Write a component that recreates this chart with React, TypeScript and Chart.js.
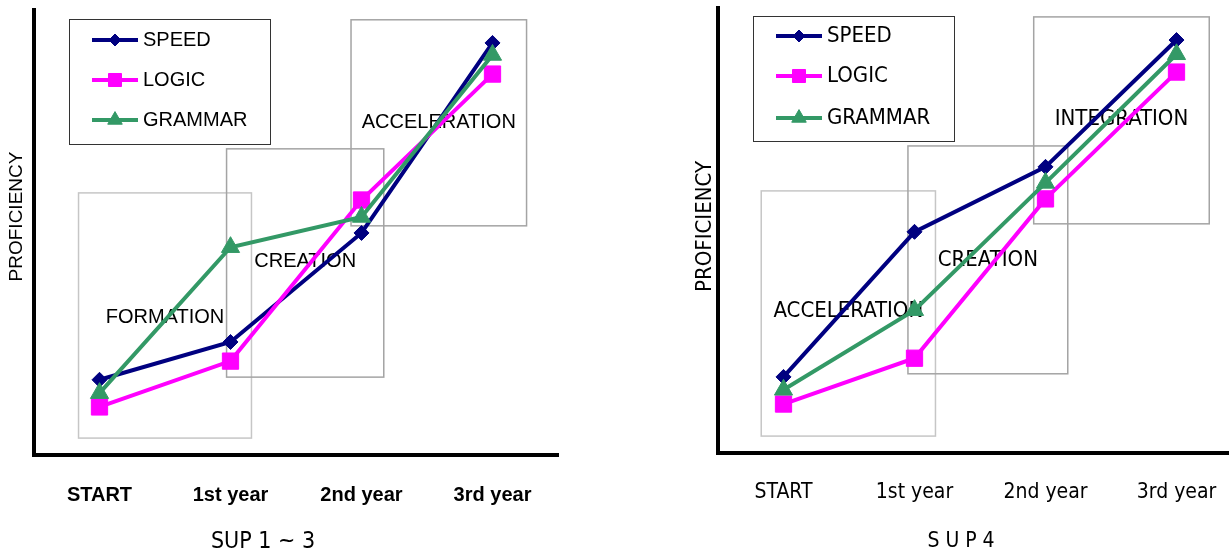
import React, { useEffect, useRef } from 'react';
import { Chart, registerables } from 'chart.js';
import { drawPoint } from 'chart.js/helpers';

Chart.register(...registerables);

// Shared categories and series
const categories = ['START', '1st year', '2nd year', '3rd year'];
const seriesNames = ['SPEED', 'LOGIC', 'GRAMMAR'];

// SUP 1 ~ 3 proficiency (0-100 scale)
const sup13Speed = [16.9, 25.4, 49.9, 92.6];
const sup13Logic = [10.8, 21.1, 57.3, 85.6];
const sup13Grammar = [13.9, 46.7, 53.5, 89.9];

// SUP 1 ~ 3 phase frames (x in category units, y in proficiency units)
const sup13Phases = ['FORMATION', 'CREATION', 'ACCELERATION'];
const sup13PhaseFrom = [-0.16, 0.97, 1.92];
const sup13PhaseTo = [1.16, 2.17, 3.26];
const sup13PhaseLow = [3.8, 17.5, 51.5];
const sup13PhaseHigh = [58.9, 68.8, 97.8];
const sup13PhaseLabelAt = [31.0, 43.4, 74.8];

// SUP 4 proficiency
const sup4Speed = [17.1, 49.7, 64.3, 92.8];
const sup4Logic = [11.0, 21.3, 57.1, 85.6];
const sup4Grammar = [14.2, 32.1, 60.7, 89.6];

// SUP 4 phase frames
const sup4Phases = ['ACCELERATION', 'CREATION', 'INTEGRATION'];
const sup4PhaseFrom = [-0.17, 0.95, 1.91];
const sup4PhaseTo = [1.16, 2.17, 3.25];
const sup4PhaseLow = [3.8, 17.8, 51.5];
const sup4PhaseHigh = [58.9, 69.0, 98.0];
const sup4PhaseLabelAt = [31.9, 43.4, 75.1];

const seriesStyles = [
  { color: '#000080', pointStyle: 'rectRot', radius: 7.5, order: 3 },
  { color: '#ff00ff', pointStyle: 'rect', radius: 11.5, order: 2 },
  { color: '#339966', pointStyle: 'triangle', radius: 10.5, order: 1 },
];

const frameColors = ['#c6c6c6', '#a4a4a4', '#a4a4a4'];

const ARIAL = "'Liberation Sans', Arial, sans-serif";
const CONDENSED = "'DejaVu Sans Condensed', 'DejaVu Sans', sans-serif";

type PanelConfig = {
  pageX: number;
  top: number;
  bottom: number;
  values: number[][];
  phases: string[];
  from: number[];
  to: number[];
  low: number[];
  high: number[];
  labelAt: number[];
  family: string;
  textSize: number;
  tickFont: { family: string; size: number; weight: string };
  tickPad: number;
  legendTop: number;
  legendRows: number[];
  yTitleSize: number;
  yTitleDx: number;
  yTitleShift: number;
  xTitle: string;
  xTitleSize: number;
  xTitleShift: number;
};

const CANVAS_W = 560;
const CANVAS_H = 550;
const AXIS_LEFT = 34;

function makeFramePlugin(cfg: PanelConfig) {
  return {
    id: 'phaseFrames',
    beforeDatasetsDraw(chart: any) {
      const { ctx, scales } = chart;
      const x = scales.x;
      const y = scales.y;
      ctx.save();
      cfg.phases.forEach((name, i) => {
        const x0 = x.getPixelForValue(cfg.from[i]);
        const x1 = x.getPixelForValue(cfg.to[i]);
        const y0 = y.getPixelForValue(cfg.high[i]);
        const y1 = y.getPixelForValue(cfg.low[i]);
        ctx.strokeStyle = frameColors[i];
        ctx.lineWidth = 1.5;
        ctx.strokeRect(x0, y0, x1 - x0, y1 - y0);
      });
      ctx.fillStyle = '#000';
      ctx.font = `${cfg.textSize}px ${cfg.family}`;
      ctx.textAlign = 'center';
      ctx.textBaseline = 'middle';
      cfg.phases.forEach((name, i) => {
        const cx = (x.getPixelForValue(cfg.from[i]) + x.getPixelForValue(cfg.to[i])) / 2;
        ctx.fillText(name, cx, y.getPixelForValue(cfg.labelAt[i]));
      });
      ctx.restore();
    },
    afterDraw(chart: any) {
      const { ctx, chartArea: a } = chart;
      ctx.save();
      // legend frame
      ctx.fillStyle = '#fff';
      ctx.fillRect(a.left + 35, a.top + cfg.legendTop, 201, 125);
      ctx.strokeStyle = '#333';
      ctx.lineWidth = 1;
      ctx.strokeRect(a.left + 35.5, a.top + cfg.legendTop + 0.5, 201, 125);
      ctx.font = `${cfg.textSize}px ${cfg.family}`;
      ctx.textAlign = 'left';
      ctx.textBaseline = 'middle';
      seriesNames.forEach((name, i) => {
        const st = seriesStyles[i];
        const ry = a.top + cfg.legendRows[i];
        ctx.strokeStyle = st.color;
        ctx.lineWidth = 4;
        ctx.beginPath();
        ctx.moveTo(a.left + 58, ry);
        ctx.lineTo(a.left + 104, ry);
        ctx.stroke();
        ctx.fillStyle = st.color;
        ctx.lineWidth = 1;
        drawPoint(ctx, { pointStyle: st.pointStyle as any, rotation: 0, radius: st.radius * 0.8, borderWidth: 1 }, a.left + 81, ry);
        ctx.fillStyle = '#000';
        ctx.fillText(name, a.left + 109, ry);
      });
      // vertical axis title
      ctx.save();
      ctx.translate(a.left - cfg.yTitleDx, (a.top + a.bottom) / 2 + cfg.yTitleShift);
      ctx.rotate(-Math.PI / 2);
      ctx.textAlign = 'center';
      ctx.font = `${cfg.yTitleSize}px ${cfg.family}`;
      ctx.fillText('PROFICIENCY', 0, 0);
      ctx.restore();
      // panel caption
      ctx.textAlign = 'center';
      ctx.font = `${cfg.xTitleSize}px ${CONDENSED}`;
      ctx.fillText(cfg.xTitle, (a.left + a.right) / 2 + cfg.xTitleShift, CANVAS_H - 8);
      ctx.restore();
    },
  };
}

function CohortChart({ cfg }: { cfg: PanelConfig }) {
  const ref = useRef<HTMLCanvasElement>(null);
  useEffect(() => {
    if (!ref.current) return;
    const chart = new Chart(ref.current, {
      type: 'line',
      data: {
        labels: categories,
        datasets: seriesNames.map((name, i) => ({
          label: name,
          data: cfg.values[i],
          borderColor: seriesStyles[i].color,
          backgroundColor: seriesStyles[i].color,
          borderWidth: 4,
          pointStyle: seriesStyles[i].pointStyle as any,
          pointRadius: seriesStyles[i].radius,
          pointBorderWidth: 1,
          pointBackgroundColor: seriesStyles[i].color,
          pointBorderColor: seriesStyles[i].color,
          tension: 0,
          order: seriesStyles[i].order,
          clip: false as any,
        })),
      },
      options: {
        responsive: false,
        animation: false,
        devicePixelRatio: 1,
        layout: { autoPadding: false, padding: { top: cfg.top, right: 2, left: 0, bottom: 0 } },
        plugins: {
          legend: { display: false },
          tooltip: { enabled: false },
          title: { display: false },
        },
        scales: {
          x: {
            type: 'category',
            offset: true,
            grid: { display: false },
            border: { display: true, color: '#000', width: 4 },
            ticks: {
              color: '#000',
              font: cfg.tickFont as any,
              padding: cfg.tickPad,
              maxRotation: 0,
              autoSkip: false,
            },
            afterFit: (s: any) => {
              s.height = CANVAS_H - cfg.bottom;
              s.paddingLeft = 0;
              s.paddingRight = 0;
            },
          },
          y: {
            min: 0,
            max: 100,
            grid: { display: false },
            border: { display: true, color: '#000', width: 4 },
            ticks: { display: false },
            afterFit: (s: any) => {
              s.width = AXIS_LEFT;
            },
          },
        },
      },
      plugins: [makeFramePlugin(cfg)],
    });
    return () => chart.destroy();
  }, [cfg]);
  return (
    <canvas
      ref={ref}
      width={CANVAS_W}
      height={CANVAS_H}
      style={{ position: 'absolute', left: cfg.pageX, top: 0 }}
    />
  );
}

const sup13Panel: PanelConfig = {
  pageX: 0,
  top: 10,
  bottom: 455,
  values: [sup13Speed, sup13Logic, sup13Grammar],
  phases: sup13Phases,
  from: sup13PhaseFrom,
  to: sup13PhaseTo,
  low: sup13PhaseLow,
  high: sup13PhaseHigh,
  labelAt: sup13PhaseLabelAt,
  family: ARIAL,
  textSize: 20,
  tickFont: { family: ARIAL, size: 20, weight: 'bold' },
  tickPad: 20,
  legendTop: 9,
  legendRows: [30, 70, 110],
  yTitleSize: 19,
  yTitleDx: 17,
  yTitleShift: -16,
  xTitle: 'SUP 1 ~ 3',
  xTitleSize: 23,
  xTitleShift: -33,
};

const sup4Panel: PanelConfig = {
  pageX: 684,
  top: 8,
  bottom: 453,
  values: [sup4Speed, sup4Logic, sup4Grammar],
  phases: sup4Phases,
  from: sup4PhaseFrom,
  to: sup4PhaseTo,
  low: sup4PhaseLow,
  high: sup4PhaseHigh,
  labelAt: sup4PhaseLabelAt,
  family: CONDENSED,
  textSize: 22,
  tickFont: { family: CONDENSED, size: 21, weight: 'normal' },
  tickPad: 19,
  legendTop: 8,
  legendRows: [28, 68, 110],
  yTitleSize: 22,
  yTitleDx: 13,
  yTitleShift: -4,
  xTitle: 'S U P 4',
  xTitleSize: 21,
  xTitleShift: -19,
};

export default function App() {
  return (
    <div
      style={{
        position: 'fixed',
        left: 0,
        top: 0,
        width: '100vw',
        height: '100vh',
        overflow: 'hidden',
        background: '#fff',
      }}
    >
      <CohortChart cfg={sup13Panel} />
      <CohortChart cfg={sup4Panel} />
    </div>
  );
}
